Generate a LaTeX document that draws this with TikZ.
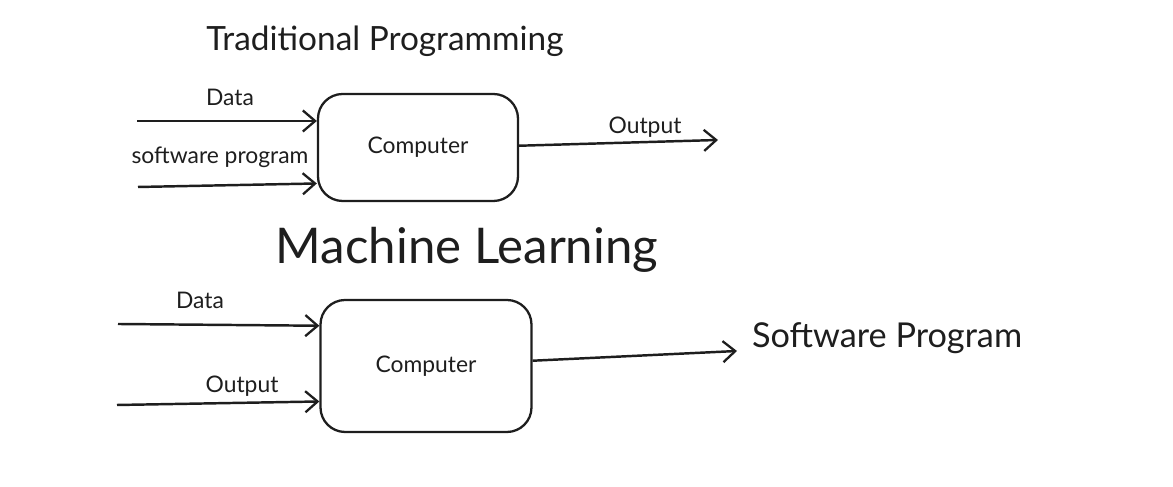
\documentclass[tikz,border=0pt]{standalone}
\usepackage{fontspec}
\setmainfont{Lato}
\usepackage{xcolor}
\definecolor{inkblack}{RGB}{30, 30, 30}
\usepackage{tikz}
\usetikzlibrary{arrows.meta, positioning}

\tikzset{
  compbox/.style={draw=inkblack, line width=1.3pt, rounded corners=14pt, align=center},
  flow/.style={draw=inkblack, line width=1.4pt, -{Straight Barb[length=7pt, width=12pt, line width=1.3pt]}},
  lbl/.style={text=inkblack, inner sep=1pt, font=\fontsize{13}{15}\selectfont}
}

\begin{document}
\begin{tikzpicture}
  \useasboundingbox (0,0) rectangle (23.46,9.74);

  % Traditional Programming
  \node[lbl, font=\fontsize{19}{22}\selectfont] (titleTP) at (7.7,8.92) {Traditional Programming};
  \node[compbox, minimum width=4.0cm, minimum height=2.14cm, lbl] (compTP) at (8.36,6.79) {Computer};

  \coordinate (dataTP) at (2.74,7.32);
  \coordinate (progTP) at (2.76,6.0);
  \coordinate (outTP) at (14.36,6.94);

  \draw[flow] (dataTP) -- (compTP.west |- dataTP);
  \draw[flow] (progTP) -- ([yshift=2pt]compTP.west |- progTP);
  \draw[flow] ([yshift=1pt]compTP.east) -- (outTP);

  \node[lbl] (dataTPlbl) at (4.6,7.8) {Data};
  \node[lbl] (progTPlbl) at (4.4,6.6) {software program};
  \node[lbl] (outTPlbl) at (12.9,7.2) {Output};

  % Machine Learning
  \node[lbl, font=\fontsize{28}{32}\selectfont] (titleML) at (9.34,4.74) {Machine Learning};
  \node[compbox, minimum width=4.22cm, minimum height=2.64cm, lbl] (compML) at (8.52,2.42) {Computer};

  \coordinate (dataML) at (2.36,3.26);
  \coordinate (outML) at (2.34,1.64);
  \coordinate (progML) at (14.74,2.72);

  \draw[flow] (dataML) -- ([yshift=-1pt]compML.west |- dataML);
  \draw[flow] (outML) -- ([yshift=2pt]compML.west |- outML);
  \draw[flow] ([yshift=3pt]compML.east) -- (progML);

  \node[lbl] (dataMLlbl) at (4.0,3.74) {Data};
  \node[lbl] (outMLlbl) at (4.84,2.02) {Output};
  \node[lbl, font=\fontsize{19.5}{23}\selectfont, anchor=west] (progMLlbl) at (15.0,2.98) {Software Program};

\end{tikzpicture}
\end{document}
